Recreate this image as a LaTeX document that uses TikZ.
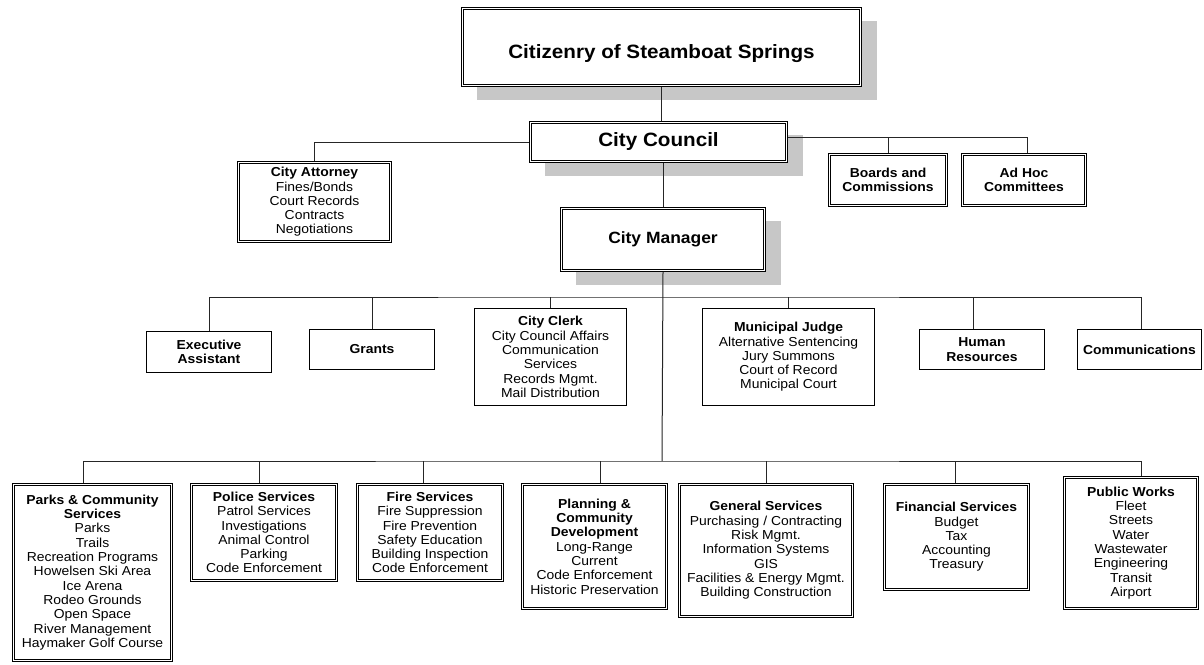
\documentclass[tikz,border=0pt]{standalone}
\usepackage{fontspec}
\setmainfont[FakeStretch=1.07]{Liberation Sans}
\usetikzlibrary{shadows}
\newcommand\sfsm{\fontsize{13pt}{14.3pt}\selectfont}
\newcommand\sftitle{\fontsize{19.3pt}{22pt}\selectfont\bfseries}
\newcommand\sfmgr{\fontsize{16.3pt}{19pt}\selectfont\bfseries}
\tikzset{
  conn/.style={draw=black!85, line width=1pt},
  sbox/.style={draw=black, line width=1pt, fill=white, inner sep=0pt, align=center, font=\sfsm},
  dbox/.style={draw=black, line width=0.7pt, fill=white, inner sep=0pt, align=center, font=\sfsm},
  innerline/.style={draw=black, line width=1.2pt},
  shad/.style={drop shadow={shadow xshift=15pt, shadow yshift=-13pt, fill=black!22, opacity=1}},
}
\begin{document}
\begin{tikzpicture}[x=1pt,y=-1pt]
\useasboundingbox (0,0) rectangle (1204,664);
\fill[white] (0,0) rectangle (1204,664);
% top
\node[dbox, shad, minimum width=400pt, minimum height=79pt, font=\sftitle] (cit) at (661.5,47) {\raisebox{-11.5pt}[0pt][0pt]{Citizenry of Steamboat Springs}};
\node[dbox, shad, minimum width=258pt, minimum height=41pt, font=\sftitle] (council) at (658.5,142) {City Council};
\node[dbox, shad, minimum width=205pt, minimum height=64pt, font=\sfmgr] (mgr) at (663,239.5) {City Manager};
\node[dbox, minimum width=154pt, minimum height=81pt] (att) at (314.5,202) {\textbf{City Attorney}\\Fines/Bonds\\Court Records\\Contracts\\Negotiations};
\node[dbox, minimum width=119pt, minimum height=53pt, font=\sfsm\bfseries] (boards) at (888,180) {Boards and\\Commissions};
\node[dbox, minimum width=125pt, minimum height=53pt, font=\sfsm\bfseries] (adhoc) at (1024,180) {Ad Hoc\\Committees};
% row 3
\node[sbox, minimum width=125pt, minimum height=41pt, font=\sfsm\bfseries] (exec) at (209,352) {Executive\\Assistant};
\node[sbox, minimum width=125pt, minimum height=40pt, font=\sfsm\bfseries] (grants) at (372,349.5) {Grants};
\node[sbox, minimum width=152pt, minimum height=97pt] (clerk) at (550.5,357) {\textbf{City Clerk}\\City Council Affairs\\Communication\\Services\\Records Mgmt.\\Mail Distribution};
\node[sbox, minimum width=172pt, minimum height=97pt] (judge) at (788.5,357) {\textbf{Municipal Judge}\\Alternative Sentencing\\Jury Summons\\Court of Record\\Municipal Court};
\node[sbox, minimum width=125pt, minimum height=40pt, font=\sfsm\bfseries] (hr) at (982,349.5) {Human\\Resources};
\node[sbox, minimum width=124pt, minimum height=40pt, font=\sfsm\bfseries] (comms) at (1139.5,349.5) {Communications};
% row 4
\node[dbox, minimum width=160pt, minimum height=178pt] (parks) at (92.5,572.5) {\textbf{Parks \& Community}\\\textbf{Services}\\Parks\\Trails\\Recreation Programs\\Howelsen Ski Area\\Ice Arena\\Rodeo Grounds\\Open Space\\River Management\\Haymaker Golf Course};
\node[dbox, minimum width=147pt, minimum height=98pt] (police) at (264,532.5) {\textbf{Police Services}\\Patrol Services\\Investigations\\Animal Control\\Parking\\Code Enforcement};
\node[dbox, minimum width=147pt, minimum height=98pt] (fire) at (430,532.5) {\textbf{Fire Services}\\Fire Suppression\\Fire Prevention\\Safety Education\\Building Inspection\\Code Enforcement};
\node[dbox, minimum width=146pt, minimum height=126pt] (plan) at (594.5,546.5) {\textbf{Planning \&}\\\textbf{Community}\\\textbf{Development}\\Long-Range\\Current\\Code Enforcement\\Historic Preservation};
\node[dbox, minimum width=175pt, minimum height=134pt] (gs) at (766,550.5) {\textbf{General Services}\\Purchasing / Contracting\\Risk Mgmt.\\Information Systems\\GIS\\Facilities \& Energy Mgmt.\\Building Construction};
\node[dbox, minimum width=146pt, minimum height=107pt] (fs) at (956.5,537) {\textbf{Financial Services}\\Budget\\Tax\\Accounting\\Treasury};
\node[dbox, minimum width=135pt, minimum height=133pt] (pw) at (1131,543) {\textbf{Public Works}\\Fleet\\Streets\\Water\\Wastewater\\Engineering\\Transit\\Airport};
% inner lines of the double borders
\foreach \n in {cit,council,mgr,att,boards,adhoc,parks,police,fire,plan,gs,fs,pw}
  \draw[innerline] ([shift={(2.6pt,-2.6pt)}]\n.north west) rectangle ([shift={(-2.6pt,2.6pt)}]\n.south east);
% junctions
\coordinate (b3) at (662,297);
\coordinate (b4) at (662,461);
\coordinate (cr) at ([yshift=5pt]council.east);
% connectors top
\draw[conn] (cit.south) -- (cit.south |- council.north);
\draw[conn] (mgr.north |- council.south) -- (mgr.north);
\draw[conn] (council.west) -| (att.north);
\draw[conn] (cr) -| ([xshift=3pt]adhoc.north);
\draw[conn] (boards.north) -- (boards.north |- cr);
% row 3
\draw[conn] (mgr.south) -- (b4);
\draw[conn] (exec.north) |- (b3) -| ([xshift=1.5pt]comms.north);
\draw[conn] (grants.north) -- (grants.north |- b3);
\draw[conn] (clerk.north) -- (clerk.north |- b3);
\draw[conn] (judge.north) -- (judge.north |- b3);
\draw[conn] ([xshift=-9pt]hr.north) -- ([xshift=-9pt]hr.north |- b3);
% row 4
\draw[conn] ([xshift=-9.5pt]parks.north) |- (b4) -| ([xshift=10pt]pw.north);
\draw[conn] ([xshift=-5pt]police.north) -- ([xshift=-5pt]police.north |- b4);
\draw[conn] ([xshift=-7pt]fire.north) -- ([xshift=-7pt]fire.north |- b4);
\draw[conn] ([xshift=5.5pt]plan.north) -- ([xshift=5.5pt]plan.north |- b4);
\draw[conn] (gs.north) -- (gs.north |- b4);
\draw[conn] ([xshift=-1.5pt]fs.north) -- ([xshift=-1.5pt]fs.north |- b4);
\end{tikzpicture}
\end{document}
